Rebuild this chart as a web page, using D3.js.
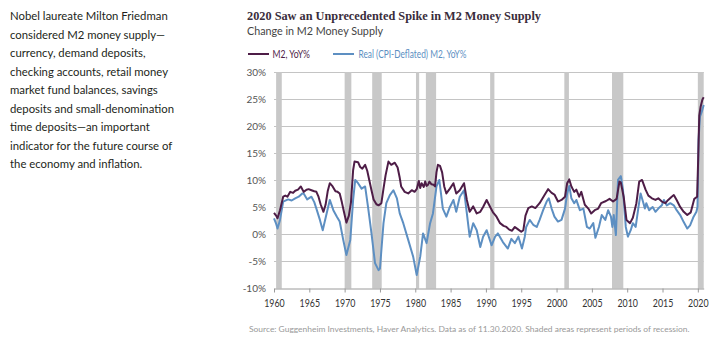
<!DOCTYPE html>
<html>
<head>
<meta charset="utf-8">
<script src="https://cdn.jsdelivr.net/npm/d3@7"></script>
<style>
  body { margin: 0; background: #fff; }
  svg { display: block; font-family: Lato, "Open Sans", sans-serif; }
</style>
</head>
<body>
<div id="wrapper"></div>
<script>
// M2 money supply, year-over-year % change
const m2 = [
  [1960.0, 4.0], [1960.3, 3.5], [1960.5, 3.0], [1960.85, 4.5], [1961.3, 7.0], [1961.6, 7.2], [1961.9, 7.0],
  [1962.3, 7.9], [1962.7, 7.7], [1963.0, 8.1], [1963.4, 8.3], [1963.8, 8.9], [1964.2, 7.9], [1964.6, 8.3],
  [1964.9, 8.4], [1965.3, 8.2], [1965.7, 8.0], [1966.0, 7.9], [1966.3, 7.0], [1966.6, 5.6], [1967.0, 4.2],
  [1967.3, 5.5], [1967.6, 8.0], [1967.9, 9.5], [1968.3, 8.9], [1968.7, 8.0], [1969.0, 7.9], [1969.3, 7.6],
  [1969.6, 6.0], [1969.9, 4.2], [1970.25, 2.2], [1970.6, 3.5], [1970.9, 6.0], [1971.2, 11.9], [1971.4, 13.5],
  [1971.9, 13.4], [1972.2, 12.5], [1972.5, 12.2], [1972.9, 12.9], [1973.2, 11.8], [1973.5, 10.0], [1973.8, 8.2],
  [1974.1, 6.5], [1974.5, 5.6], [1974.8, 5.4], [1975.2, 5.8], [1975.5, 8.5], [1975.8, 11.0], [1976.2, 13.5],
  [1976.6, 12.9], [1977.1, 13.3], [1977.5, 12.4], [1977.8, 10.5], [1978.0, 8.9], [1978.5, 7.9], [1979.0, 7.6],
  [1979.5, 8.2], [1979.9, 7.9], [1980.2, 8.4], [1980.5, 9.9], [1980.7, 8.6], [1980.9, 9.5], [1981.2, 8.8],
  [1981.4, 9.8], [1981.6, 9.0], [1981.8, 9.2], [1982.0, 9.8], [1982.3, 9.3], [1982.6, 9.2], [1982.8, 8.9],
  [1983.0, 11.5], [1983.2, 12.9], [1983.5, 12.7], [1983.8, 11.5], [1984.1, 8.9], [1984.4, 7.6], [1984.9, 8.5],
  [1985.4, 9.5], [1985.8, 7.6], [1986.3, 8.2], [1986.9, 9.5], [1987.3, 6.4], [1987.7, 4.2], [1988.2, 5.2],
  [1988.7, 3.9], [1989.2, 4.2], [1989.6, 5.1], [1990.1, 6.4], [1990.6, 5.1], [1991.0, 4.1], [1991.5, 3.3],
  [1992.0, 2.1], [1992.5, 1.6], [1992.9, 1.4], [1993.3, 0.9], [1993.7, 0.7], [1994.1, 1.4], [1994.5, 1.0],
  [1995.0, 0.5], [1995.3, 0.8], [1995.6, 3.5], [1996.0, 4.9], [1996.5, 5.2], [1997.0, 4.9], [1997.6, 5.8],
  [1998.3, 7.3], [1998.8, 8.4], [1999.3, 7.7], [1999.7, 7.4], [2000.2, 6.1], [2000.7, 6.4], [2001.2, 7.0],
  [2001.5, 9.5], [2001.8, 10.2], [2002.1, 8.9], [2002.5, 7.9], [2002.8, 8.3], [2003.2, 7.0], [2003.5, 7.9],
  [2004.0, 5.5], [2004.5, 4.8], [2004.9, 3.9], [2005.4, 4.5], [2005.9, 4.8], [2006.3, 5.8], [2007.0, 6.2],
  [2007.5, 6.6], [2008.0, 6.1], [2008.5, 6.6], [2008.9, 9.8], [2009.1, 9.6], [2009.5, 7.0], [2009.9, 2.7],
  [2010.4, 2.1], [2010.8, 3.1], [2011.3, 5.8], [2011.7, 9.8], [2012.1, 10.1], [2012.6, 8.3], [2013.0, 7.2],
  [2013.5, 6.7], [2014.0, 6.4], [2014.4, 6.7], [2014.9, 6.1], [2015.4, 5.8], [2015.8, 6.4], [2016.3, 7.0],
  [2016.6, 7.3], [2017.0, 6.4], [2017.5, 5.1], [2018.0, 4.2], [2018.5, 3.6], [2019.0, 4.1], [2019.5, 6.6],
  [2019.9, 7.0], [2020.05, 14.0], [2020.2, 22.0], [2020.4, 23.7], [2020.65, 25.0], [2020.83, 25.4]
];

// Real (CPI-deflated) M2, year-over-year % change
const real = [
  [1960.0, 3.0], [1960.3, 2.0], [1960.5, 1.1], [1960.85, 2.7], [1961.3, 6.1], [1962.0, 6.5], [1962.5, 6.3],
  [1963.0, 6.7], [1963.5, 7.0], [1964.0, 7.6], [1964.2, 7.6], [1964.7, 6.5], [1965.3, 7.0], [1965.7, 6.0],
  [1966.0, 4.8], [1966.5, 2.7], [1966.9, 0.8], [1967.4, 3.6], [1967.9, 6.4], [1968.4, 4.5], [1968.9, 3.3],
  [1969.3, 2.4], [1969.8, -1.0], [1970.25, -3.8], [1970.8, -1.0], [1971.2, 6.4], [1971.5, 10.1], [1971.9, 9.5],
  [1972.4, 8.5], [1972.9, 8.9], [1973.3, 5.2], [1973.8, 0.2], [1974.3, -5.3], [1974.8, -6.6], [1975.0, -6.3],
  [1975.5, 2.1], [1975.9, 5.8], [1976.4, 7.3], [1976.9, 8.2], [1977.4, 6.7], [1977.8, 3.9], [1978.3, 2.1],
  [1979.0, -1.0], [1979.7, -4.1], [1980.2, -7.5], [1980.7, -4.1], [1981.1, 0.2], [1981.6, -1.6], [1982.1, 2.1],
  [1982.5, 3.9], [1983.0, 8.9], [1983.4, 10.1], [1983.9, 4.8], [1984.4, 3.3], [1984.9, 5.1], [1985.4, 6.4],
  [1985.8, 4.2], [1986.3, 7.0], [1986.9, 8.2], [1987.3, 3.9], [1987.7, -0.4], [1988.2, 2.1], [1988.7, 0.8],
  [1989.2, -2.3], [1989.6, -0.4], [1990.1, 0.8], [1990.8, -2.0], [1991.3, -0.4], [1991.7, 0.2], [1992.4, -1.4],
  [1993.1, -2.6], [1993.6, -0.8], [1994.1, -1.6], [1994.6, -0.4], [1995.1, -2.6], [1995.5, -0.4], [1995.7, 1.4],
  [1996.2, 2.7], [1996.7, 1.8], [1997.2, 1.4], [1997.6, 2.7], [1998.1, 4.5], [1998.6, 6.1], [1998.9, 6.7],
  [1999.3, 4.8], [1999.7, 3.3], [2000.2, 2.4], [2000.7, 2.7], [2001.2, 4.8], [2001.5, 7.6], [2001.8, 9.0],
  [2002.1, 6.7], [2002.5, 5.8], [2002.8, 6.4], [2003.3, 4.5], [2003.8, 4.8], [2004.3, 1.4], [2004.7, 1.1],
  [2005.2, 2.1], [2005.5, -0.6], [2006.0, 1.4], [2006.4, 3.6], [2006.9, 2.7], [2007.3, 4.5], [2007.7, 3.3],
  [2007.9, 1.4], [2008.1, 3.6], [2008.4, -0.1], [2008.7, 10.1], [2009.1, 10.8], [2009.4, 8.3], [2009.8, 1.4],
  [2010.1, -0.4], [2010.5, 0.8], [2010.8, 2.1], [2011.2, 1.4], [2011.6, 5.1], [2011.9, 7.6], [2012.3, 5.8],
  [2012.5, 4.8], [2012.7, 5.8], [2013.1, 4.5], [2013.6, 5.1], [2014.0, 4.2], [2014.4, 4.8], [2014.9, 5.4],
  [2015.2, 6.4], [2015.6, 5.4], [2016.1, 5.8], [2016.6, 5.4], [2017.0, 4.5], [2017.5, 3.6], [2018.0, 2.3],
  [2018.5, 1.1], [2018.9, 1.7], [2019.4, 3.3], [2019.8, 4.2], [2019.95, 5.1], [2020.1, 17.5], [2020.3, 21.8],
  [2020.55, 22.7], [2020.83, 24.0]
];

// recession periods (start, end)
const recessionStart = [1960.3, 1970.0, 1973.9, 1980.1, 1981.5, 1990.6, 2001.1, 2007.85, 2020.0];
const recessionEnd   = [1961.1, 1970.95, 1975.25, 1980.55, 1982.95, 1991.2, 2001.75, 2009.45, 2020.83];

const yTicks = [-10, -5, 0, 5, 10, 15, 20, 25, 30];
const xTicks = [1960, 1965, 1970, 1975, 1980, 1985, 1990, 1995, 2000, 2005, 2010, 2015, 2020];

const paragraph = [
  "Nobel laureate Milton Friedman",
  "considered M2 money supply\u2014",
  "currency, demand deposits,",
  "checking accounts, retail money",
  "market fund balances, savings",
  "deposits and small-denomination",
  "time deposits\u2014an important",
  "indicator for the future course of",
  "the economy and inflation."
];

const dimension = {
  width: 717,
  height: 343,
  plot: { left: 274, right: 703.7, top: 72.5, bottom: 288.5 }
};

const svg = d3.select("#wrapper").append("svg")
  .attr("width", dimension.width)
  .attr("height", dimension.height);

// squeeze a text horizontally if it is wider than w
function fit(sel, w) {
  sel.each(function () {
    if (this.getComputedTextLength() > w) {
      d3.select(this).attr("textLength", w).attr("lengthAdjust", "spacingAndGlyphs");
    }
  });
}

// shrink font size until the text is no wider than w
function shrink(sel, w) {
  sel.each(function () {
    const el = d3.select(this);
    const fs = parseFloat(el.style("font-size"));
    const l = this.getComputedTextLength();
    if (l > w) el.style("font-size", (fs * w / l).toFixed(2) + "px");
  });
}

// left paragraph
const para = svg.append("g").attr("fill", "#231f20").style("font-size", "11.5px");
const paraLines = para.selectAll("text").data(paragraph).join("text")
  .attr("x", 10)
  .attr("y", (d, i) => 20 + i * 18.5)
  .text(d => d);
let widest = d3.max(paraLines.nodes(), n => n.getComputedTextLength());
let k = 164 / widest;
paraLines.each(function () {
  const l = this.getComputedTextLength();
  d3.select(this).attr("textLength", l * k).attr("lengthAdjust", "spacingAndGlyphs");
});

// title + subtitle
svg.append("text")
  .attr("x", 247).attr("y", 20)
  .attr("fill", "#3a2d3b")
  .style("font-family", "'Liberation Serif', 'DejaVu Serif', serif")
  .style("font-weight", "bold")
  .style("font-size", "13.5px")
  .text("2020 Saw an Unprecedented Spike in M2 Money Supply")
  .call(fit, 294);

svg.append("text")
  .attr("x", 247).attr("y", 35)
  .attr("fill", "#444")
  .style("font-size", "11.5px")
  .text("Change in M2 Money Supply")
  .call(fit, 136);

// legend
const legend = svg.append("g").style("font-size", "10.5px");
legend.append("line").attr("x1", 248).attr("x2", 269).attr("y1", 54).attr("y2", 54)
  .attr("stroke", "#4e1d47").attr("stroke-width", 2);
legend.append("text").attr("x", 272.5).attr("y", 58).attr("fill", "#4e1d47")
  .text("M2, YoY%").call(fit, 37.5);
legend.append("line").attr("x1", 333).attr("x2", 354).attr("y1", 54).attr("y2", 54)
  .attr("stroke", "#5d8fc2").attr("stroke-width", 2);
legend.append("text").attr("x", 358.5).attr("y", 58).attr("fill", "#5d8fc2")
  .text("Real (CPI-Deflated) M2, YoY%").call(fit, 108);

// scales
const x = d3.scaleLinear()
  .domain([1960, 2020.83])
  .range([dimension.plot.left, dimension.plot.right]);
const y = d3.scaleLinear()
  .domain([-10, 30])
  .range([dimension.plot.bottom, dimension.plot.top]);

// gridlines
svg.append("g").selectAll("line").data(yTicks.filter(d => d > -10)).join("line")
  .attr("x1", x(1960)).attr("x2", x(2020.83))
  .attr("y1", d => y(d)).attr("y2", d => y(d))
  .attr("stroke", "#c4c4c4").attr("stroke-width", 1.2);

// recession bands
svg.append("g").selectAll("rect").data(recessionStart).join("rect")
  .attr("x", d => x(d))
  .attr("width", (d, i) => x(recessionEnd[i]) - x(d))
  .attr("y", y(30) - 0.5)
  .attr("height", y(-10) - y(30) + 0.5)
  .attr("fill", "#c8c8c8");

// axes
const xAxis = svg.append("g")
  .attr("transform", `translate(0,${y(-10)})`)
  .call(d3.axisBottom(x).tickValues(xTicks).tickFormat(d3.format("d"))
    .tickSize(4).tickSizeOuter(0).tickPadding(7));
xAxis.select(".domain").attr("stroke", "#9a9a9a");
xAxis.selectAll(".tick line").attr("stroke", "#9a9a9a");
xAxis.selectAll(".tick text")
  .attr("fill", "#333")
  .style("font-family", "Lato, sans-serif")
  .style("font-size", "10.5px")
  .call(fit, 20.5);

const yAxis = svg.append("g")
  .attr("transform", `translate(${x(1960)},0)`)
  .call(d3.axisLeft(y).tickValues(yTicks).tickFormat(d => d + "%").tickSize(0).tickPadding(8));
yAxis.select(".domain").remove();
yAxis.selectAll(".tick text")
  .attr("fill", "#555")
  .style("font-family", "Lato, sans-serif")
  .style("font-size", "10px");

// lines
const lineGenerator = d3.line()
  .x(d => x(d[0]))
  .y(d => y(d[1]));

svg.append("path")
  .attr("d", lineGenerator(real))
  .attr("fill", "none")
  .attr("stroke", "#5d8fc2")
  .attr("stroke-width", 2)
  .attr("stroke-linejoin", "round");

svg.append("path")
  .attr("d", lineGenerator(m2))
  .attr("fill", "none")
  .attr("stroke", "#4e1d47")
  .attr("stroke-width", 2)
  .attr("stroke-linejoin", "round");

// source note
svg.append("text")
  .attr("x", 249).attr("y", 332)
  .attr("fill", "#999")
  .style("font-size", "9px")
  .text("Source: Guggenheim Investments, Haver Analytics. Data as of 11.30.2020. Shaded areas represent periods of recession.")
  .call(shrink, 441);
</script>
</body>
</html>
